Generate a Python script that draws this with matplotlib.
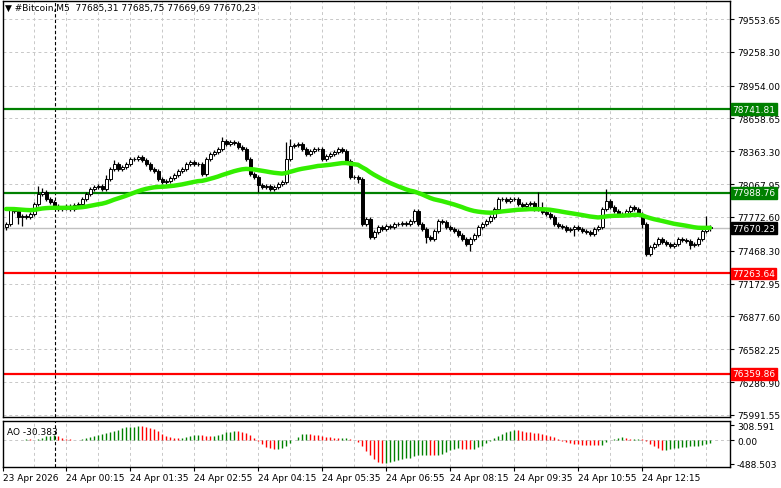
import numpy as np
import pandas as pd
import matplotlib
matplotlib.use("Agg")
import matplotlib.pyplot as plt

closes = [
77709,77844,77826,77772,77781,77772,77799,77889,77979,77997,77934,77907,77871,77844,77853,77871,77844,77880,77889,77934,77979,78024,78042,78051,78024,78114,78204,78249,78204,78222,78249,78294,78294,78312,78285,78249,78204,78186,78114,78087,78096,78123,78150,78186,
78204,78249,78267,78249,78249,78159,78294,78339,78357,78384,78456,78429,78447,78438,78402,78384,78294,78159,78132,78060,78042,78051,78024,78042,78069,78087,78294,78411,78420,78429,78384,78339,78366,78384,78384,78294,78321,78339,78357,78384,78366,78276,78132,78132,78114,
77709,77754,77592,77637,77682,77664,77691,77682,77709,77709,77718,77709,77736,77826,77709,77664,77592,77574,77646,77736,77727,77682,77664,77646,77610,77574,77529,77574,77610,77682,77709,77736,77772,77844,77934,77934,77916,77934,77934,77889,77871,77889,77898,77844,
77844,77817,77799,77772,77709,77691,77682,77655,77664,77682,77664,77646,77637,77619,77664,77682,77844,77916,77862,77826,77799,77799,77826,77862,77844,77799,77709,77439,77502,77529,77574,77547,77529,77511,77529,77574,77565,77556,77520,77529,77574,77646,77682,77670.23]
first_open = 77680
wick_up_default = 22
wick_dn_default = 22
wick_up = {8: 70, 9: 40, 27: 40, 70: 150, 71: 60, 54: 40, 133: 150, 134: 60, 150: 110, 175: 100, 25: 40}
wick_dn = {4: 80, 3: 60, 88: 40, 116: 60, 142: 60, 159: 40, 171: 40, 63: 60, 105: 50}

price_ticks = [79553.65, 79258.30, 78954.00, 78658.65, 78363.30, 78067.95, 77772.60,
               77468.30, 77172.95, 76877.60, 76582.25, 76286.90, 75991.55]
green_levels = [78741.81, 77988.76]
red_levels = [77263.64, 76359.86]
last_price = 77670.23
time_labels = ["23 Apr 2026", "24 Apr 00:15", "24 Apr 01:35", "24 Apr 02:55", "24 Apr 04:15",
               "24 Apr 05:35", "24 Apr 06:55", "24 Apr 08:15", "24 Apr 09:35", "24 Apr 10:55", "24 Apr 12:15"]
title = "▼ #Bitcoin,M5  77685,31 77685,75 77669,69 77670,23"

n = len(closes)
c = np.array(closes, float)
o = np.concatenate([[first_open], c[:-1]])
hi = np.maximum(o, c) + np.array([wick_up.get(i, wick_up_default) for i in range(n)])
lo = np.minimum(o, c) - np.array([wick_dn.get(i, wick_dn_default) for i in range(n)])
x = np.arange(n)

# moving average (EMA seeded by previous level)
ma = []
prev = 77850.0
alpha = 2 / 48
for v in c:
    prev = prev + alpha * (v - prev)
    ma.append(prev)
ma = np.array(ma)

med = pd.Series((hi + lo) / 2)
ao = (med.rolling(5, min_periods=1).mean() - med.rolling(34, min_periods=1).mean()).values

W, H = 781, 489
fig = plt.figure(figsize=(W / 100, H / 100), dpi=100)
plt.rcParams['font.family'] = ['DejaVu Sans']
fs = 6.5
ax = fig.add_axes([3 / W, (H - 418) / H, 727 / W, 416 / H])
ax2 = fig.add_axes([3 / W, (H - 468) / H, 727 / W, 46 / H])
xl = (-0.75, 181)
grid_kw = dict(color="#c8c8c8", ls=(0, (3, 3)), lw=0.7)

ymax = 79734 - 9 * 2
ymin = 79734 - 9 * 418
ax.set_xlim(*xl)
ax.set_ylim(ymin, ymax)
for p in price_ticks:
    ax.axhline(p, zorder=0, **grid_kw)
for gx in range(7, 181, 8):
    ax.axvline(gx, zorder=0, **grid_kw)
    ax2.axvline(gx, zorder=0, **grid_kw)
ax.axvline(12.25, color="black", ls=(0, (3, 2)), lw=0.8, zorder=1)
ax2.axvline(12.25, color="black", ls=(0, (3, 2)), lw=0.8, zorder=1)

ax.axhline(last_price, color="#c0c0c0", lw=1, zorder=1)
for lv in green_levels:
    ax.axhline(lv, color="#008000", lw=1.6, zorder=2)
for lv in red_levels:
    ax.axhline(lv, color="#ff0000", lw=1.6, zorder=2)

ax.vlines(x, lo, hi, color="black", lw=0.9, zorder=3)
bull = c >= o
ax.bar(x[bull], (c - o)[bull], bottom=o[bull], width=0.75, color="white", edgecolor="black", lw=0.7, zorder=4)
ax.bar(x[~bull], (o - c)[~bull], bottom=c[~bull], width=0.75, color="black", edgecolor="black", lw=0.7, zorder=4)
ax.plot(x, ma, color="#33ee00", lw=3.2, zorder=5, solid_capstyle="round")

ax.yaxis.tick_right()
ax.set_yticks(price_ticks)
ax.set_yticklabels([f"{p:.2f}" for p in price_ticks], fontsize=fs)
ax.tick_params(axis="y", length=3, pad=2)
ax.set_xticks([])
for lv, col in [(g, "#008000") for g in green_levels] + [(r, "#ff0000") for r in red_levels] + [(last_price, "black")]:
    ax.text(1.003, lv, f"{lv:.2f}", transform=ax.get_yaxis_transform(), fontsize=fs, color="white",
            va="center", ha="left", bbox=dict(boxstyle="square,pad=0.15", fc=col, ec=col), zorder=10, clip_on=False)
ax.text(0.003, 0.995, title, transform=ax.transAxes, fontsize=fs, va="top", ha="left")

# AO pane
ax2.set_xlim(*xl)
ax2.set_ylim(-560, 400)
ax2.axhline(0, **grid_kw)
diff = np.diff(np.concatenate([[ao[0]], ao]))
cols = np.where(diff >= 0, "#008000", "#ff0000")
ax2.vlines(x, 0, ao, colors=cols, lw=1.0)
ax2.yaxis.tick_right()
ax2.set_yticks([308.591, 0, -488.503])
ax2.set_yticklabels(["308.591", "0.00", "-488.503"], fontsize=fs)
ax2.tick_params(axis="y", length=3, pad=2)
ax2.text(0.005, 0.88, "AO -30.383", transform=ax2.transAxes, fontsize=fs, va="top", ha="left")
ax2.set_xticks([-0.75] + [15 + 16 * k for k in range(len(time_labels) - 1)])
ax2.set_xticklabels(time_labels, fontsize=fs, ha="left")
ax2.tick_params(axis="x", length=3, pad=1)

for a in (ax, ax2):
    for s in a.spines.values():
        s.set_linewidth(1)
fig.savefig("out.png", dpi=100)
